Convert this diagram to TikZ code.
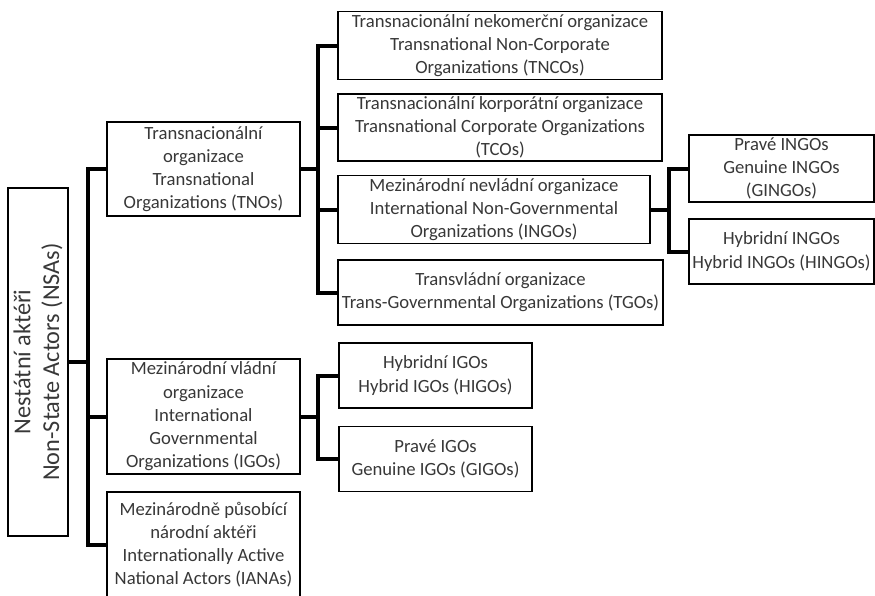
\documentclass[tikz,border=0pt]{standalone}
\usepackage{fontspec}
\setmainfont{Carlito}
\usetikzlibrary{positioning}
\definecolor{ctext}{HTML}{383838}
\tikzset{
  every picture/.style={x=0.75pt, y=-0.75pt},
  box/.style 2 args={draw=black, line width=1.4pt, fill=white, align=center, inner sep=2pt,
    text=ctext, font=\fontsize{14}{17.4}\selectfont,
    minimum width=#1*0.75pt, minimum height=#2*0.75pt},
  rootbox/.style={box={348}{60}, rotate=90, font=\fontsize{18.2}{21.5}\selectfont},
  link/.style={draw=black, line width=3pt, line cap=rect},
}
\begin{document}
\begin{tikzpicture}
  \useasboundingbox (0,0) rectangle (875,596);
  % root
  \node[rootbox] (nsa) at (38,362) {Nestátní aktéři\\Non-State Actors (NSAs)};
  % first level
  \node[box={193}{94}] (tno) at (203.5,169) {Transnacionální\\organizace\\Transnational\\Organizations (TNOs)};
  \node[box={193}{115}] (igo) at (203.5,416.5) {Mezinárodní vládní\\organizace\\International\\Governmental\\Organizations (IGOs)};
  \node[box={193}{105}] (iana) at (203.5,544.5) {Mezinárodně působící\\národní aktéři\\Internationally Active\\National Actors (IANAs)};
  % transnational
  \node[box={324}{65}] (tnco) at (500,45.5) {Transnacionální nekomerční organizace\\Transnational Non-Corporate\\Organizations (TNCOs)};
  \node[box={324}{65}] (tco) at (500,127.5) {Transnacionální korporátní organizace\\Transnational Corporate Organizations\\(TCOs)};
  \node[box={312}{65}] (ingo) at (494,209.5) {Mezinárodní nevládní organizace\\International Non-Governmental\\Organizations (INGOs)};
  \node[box={325}{65}] (tgo) at (500.5,292.5) {Transvládní organizace\\Trans-Governmental Organizations (TGOs)};
  % ingos
  \node[box={185}{65}] (gingo) at (781.5,168.5) {Pravé INGOs\\Genuine INGOs\\(GINGOs)};
  \node[box={185}{65}] (hingo) at (781.5,251.5) {Hybridní INGOs\\Hybrid INGOs (HINGOs)};
  % igos
  \node[box={193}{65}] (higo) at (435.5,375.5) {Hybridní IGOs\\Hybrid IGOs (HIGOs)};
  \node[box={193}{65}] (gigo) at (435.5,459) {Pravé IGOs\\Genuine IGOs (GIGOs)};
  % connectors
  \coordinate (j0) at (88,362);
  \draw[link] (nsa.south) -- (j0);
  \draw[link] (j0) |- (tno.west);
  \draw[link] (j0) |- (igo.west);
  \draw[link] (j0) |- (iana.west);
  \coordinate (j1) at (318,169);
  \draw[link] (tno.east) -- (j1);
  \foreach \n in {tnco, tco, ingo, tgo}
    \draw[link] (j1) |- (\n.west);
  \coordinate (j2) at (669,209.5);
  \draw[link] (ingo.east) -- (j2);
  \draw[link] (j2) |- (gingo.west);
  \draw[link] (j2) |- (hingo.west);
  \coordinate (j3) at (318,416.5);
  \draw[link] (igo.east) -- (j3);
  \draw[link] (j3) |- (higo.west);
  \draw[link] (j3) |- (gigo.west);
\end{tikzpicture}
\end{document}
